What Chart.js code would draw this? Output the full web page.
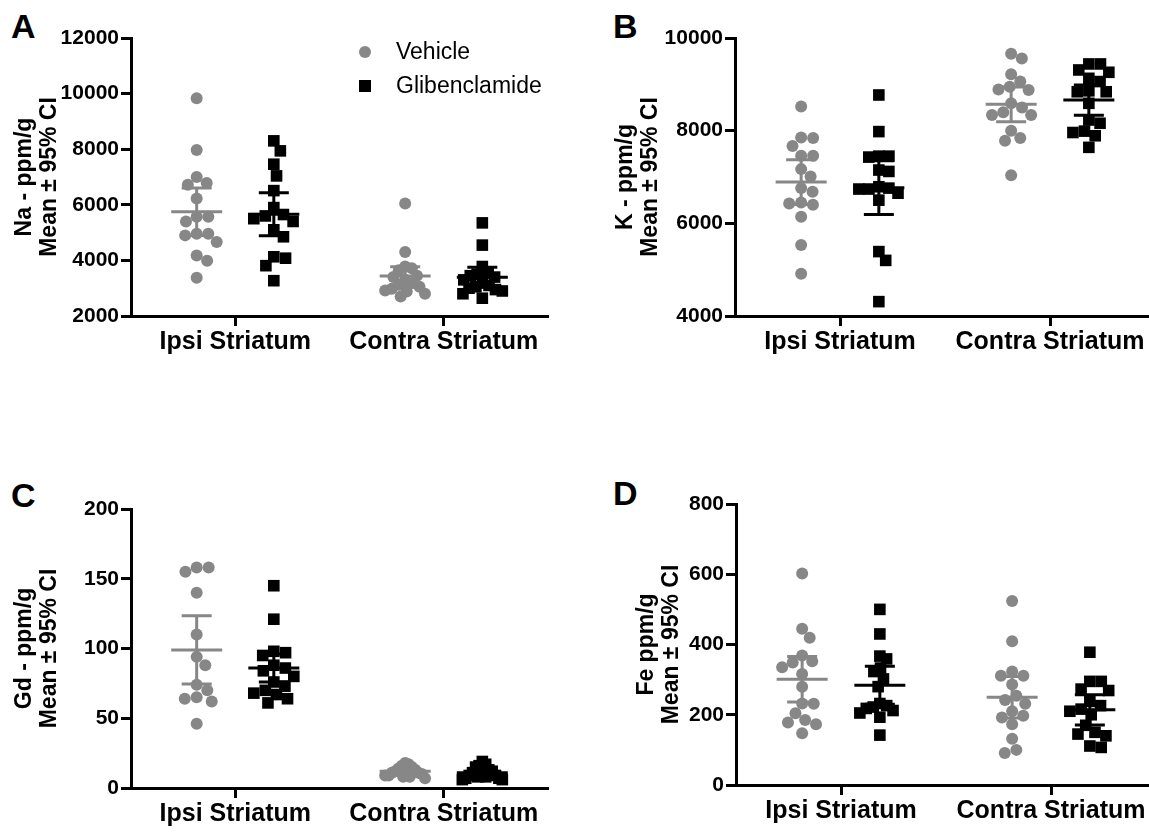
<!DOCTYPE html>
<html>
<head>
<meta charset="utf-8">
<script src="https://cdn.jsdelivr.net/npm/chart.js@4"></script>
<style>
  html, body { margin: 0; padding: 0; background: #fff; width: 1149px; height: 832px; overflow: hidden; }
  canvas { position: absolute; }
  .letter { position: absolute; font: bold 34px "Liberation Sans", Arial, sans-serif; line-height: 34px; color: #000; }
</style>
</head>
<body>
<div class="letter" style="left:11px;top:9px">A</div>
<div class="letter" style="left:613px;top:9px">B</div>
<div class="letter" style="left:11px;top:478px">C</div>
<div class="letter" style="left:613px;top:476px">D</div>
<canvas id="chartA" width="575" height="400" style="left:0;top:0"></canvas>
<canvas id="chartB" width="600" height="400" style="left:575px;top:0"></canvas>
<canvas id="chartC" width="575" height="362" style="left:0;top:470px"></canvas>
<canvas id="chartD" width="600" height="362" style="left:575px;top:470px"></canvas>
<script>
const categories = ['Ipsi Striatum', 'Contra Striatum'];

// Na - ppm/g
const naVehicleIpsi = [9830, 7970, 7000, 6780, 6720, 6230, 5570, 5400, 5570, 4960, 4660, 4900, 4960, 4180, 3990, 3380];
const naVehicleContra = [6050, 4300, 3780, 3720, 3650, 3450, 3400, 3300, 3180, 3120, 3050, 2980, 2920, 2880, 2800, 2700];
const naGlibIpsi = [8300, 7940, 7460, 7040, 6510, 5900, 5650, 5600, 5500, 5400, 5100, 4850, 4130, 4080, 3810, 3270];
const naGlibContra = [5350, 4550, 3780, 3550, 3500, 3450, 3400, 3300, 3200, 3100, 3050, 3000, 2950, 2900, 2800, 2640];
const naVehicleMean = [5750, 3440];
const naVehicleCI = [855, 330];
const naGlibMean = [5660, 3390];
const naGlibCI = [770, 360];

// K - ppm/g
const kVehicleIpsi = [8520, 7840, 7850, 7670, 7460, 7460, 7170, 7010, 6760, 6680, 6430, 6400, 6450, 6140, 5530, 4910];
const kVehicleContra = [9560, 9660, 9220, 9060, 8890, 8880, 8950, 8590, 8500, 8400, 8340, 8340, 8000, 7840, 7780, 7040];
const kGlibIpsi = [8770, 7980, 7430, 7450, 7450, 7150, 7120, 6740, 6760, 6790, 6740, 6650, 6500, 5390, 5200, 4310];
const kGlibContra = [9440, 9440, 9310, 9260, 9130, 9060, 8840, 8840, 8860, 8590, 8230, 8160, 7960, 7990, 7890, 7640];
const kVehicleMean = [6890, 8570];
const kVehicleCI = [485, 375];
const kGlibMean = [6770, 8660];
const kGlibCI = [580, 325];

// Gd - ppm/g
const gdVehicleIpsi = [158, 158, 155, 140, 110, 94, 88, 74, 70, 64, 62, 65, 46];
const gdVehicleContra = [18, 17, 16, 15, 14, 13, 12, 11, 11, 10, 10, 9, 9, 8, 8, 7];
const gdGlibIpsi = [145, 121, 98, 97, 95, 88, 86, 84, 80, 76, 73, 70, 68, 67, 64, 61];
const gdGlibContra = [19, 17, 16, 15, 13, 12, 11, 10, 9, 9, 8, 8, 7, 7, 6, 6];
const gdVehicleMean = [99, 12];
const gdVehicleCI = [24.5, 2];
const gdGlibMean = [86, 11];
const gdGlibCI = [10, 2];

// Fe ppm/g
const feVehicleIpsi = [602, 445, 419, 369, 349, 352, 335, 316, 280, 231, 232, 204, 178, 173, 185, 147];
const feVehicleContra = [524, 409, 323, 311, 311, 286, 254, 242, 231, 210, 197, 192, 173, 132, 91, 100];
const feGlibIpsi = [500, 430, 367, 359, 333, 323, 302, 280, 232, 226, 222, 218, 212, 205, 193, 142];
const feGlibContra = [378, 295, 295, 273, 269, 238, 226, 216, 210, 200, 170, 150, 145, 140, 111, 107];
const feVehicleMean = [301, 250];
const feVehicleCI = [65, 59];
const feGlibMean = [284, 214];
const feGlibCI = [54, 43];

const grey = '#878787';
const black = '#000000';
const fontFamily = '"Liberation Sans", Arial, Helvetica, sans-serif';
Chart.defaults.font.family = fontFamily;

// spread the points of one column sideways so they don't sit on top of each other
function swarm(ys, gap, limit) {
    const order = ys.map((y, i) => i).sort((a, b) => ys[a] - ys[b]);
    const placed = [];
    const xs = [];
    order.forEach(i => {
        const y = ys[i];
        const near = placed.filter(p => Math.abs(p.y - y) < gap);
        const cands = [0];
        near.forEach(p => {
            const dx = Math.sqrt(gap * gap - (p.y - y) ** 2);
            cands.push(p.x + dx, p.x - dx);
        });
        cands.sort((a, b) => Math.abs(a) - Math.abs(b));
        const x = cands.find(c => near.every(p => (p.x - c) ** 2 + (p.y - y) ** 2 >= gap * gap - 0.5));
        placed.push({ x: x ?? 0, y });
        xs[i] = x ?? 0;
    });
    const widest = Math.max(...xs.map(Math.abs));
    const k = widest > limit ? limit / widest : 1;
    return xs.map(x => x * k);
}

const beeswarm = {
    id: 'beeswarm',
    afterDatasetsUpdate(chart, args, opts) {
        chart.data.datasets.forEach((ds, i) => {
            const meta = chart.getDatasetMeta(i);
            const groups = {};
            meta.data.forEach((el, j) => {
                const key = ds.data[j].x;
                (groups[key] = groups[key] || []).push(el);
            });
            Object.values(groups).forEach(els => {
                const offs = swarm(els.map(e => e.y), opts.gap, opts.limit);
                els.forEach((e, k) => { e.x += offs[k]; });
            });
        });
    }
};

// mean line + 95% CI whiskers
const errorBars = {
    id: 'errorBars',
    afterDatasetsDraw(chart, args, opts) {
        const { ctx, scales: { x, y } } = chart;
        ctx.save();
        ctx.lineWidth = 3;
        opts.groups.forEach(g => {
            g.mean.forEach((m, i) => {
                const px = x.getPixelForValue(i + g.shift);
                const pm = y.getPixelForValue(m);
                const top = y.getPixelForValue(m + g.ci[i]);
                const bot = y.getPixelForValue(m - g.ci[i]);
                ctx.strokeStyle = g.color;
                ctx.beginPath();
                ctx.moveTo(px, top); ctx.lineTo(px, bot);
                ctx.moveTo(px - 15, top); ctx.lineTo(px + 15, top);
                ctx.moveTo(px - 15, bot); ctx.lineTo(px + 15, bot);
                ctx.moveTo(px - 25.5, pm); ctx.lineTo(px + 25.5, pm);
                ctx.stroke();
            });
        });
        ctx.restore();
    }
};

// little key in panel A
const keyBox = {
    id: 'keyBox',
    afterDraw(chart, args, opts) {
        const ctx = chart.ctx;
        ctx.save();
        ctx.font = '23px ' + fontFamily;
        ctx.textBaseline = 'middle';
        chart.data.datasets.forEach((ds, i) => {
            const cy = opts.y + i * opts.rowGap;
            ctx.fillStyle = ds.backgroundColor;
            if (ds.pointStyle === 'rect') {
                ctx.fillRect(opts.x - 6, cy - 6, 12, 12);
            } else {
                ctx.beginPath();
                ctx.arc(opts.x, cy, ds.pointRadius, 0, Math.PI * 2);
                ctx.fill();
            }
            ctx.fillStyle = black;
            ctx.fillText(ds.label, opts.textX, cy + 1);
        });
        ctx.restore();
    }
};

function makePanel(id, p) {
    const shift = 0.185;
    const toPoints = (cols, s) => cols.flatMap((vals, c) => vals.map(v => ({ x: c + s, y: v })));
    const axisGrid = { display: true, drawOnChartArea: false, drawTicks: true, tickLength: 10, tickWidth: 3, tickColor: black };
    const plugins = [beeswarm, errorBars];
    if (p.key) plugins.push(keyBox);

    new Chart(document.getElementById(id), {
        type: 'scatter',
        data: {
            datasets: [
                { label: 'Vehicle', data: toPoints(p.vehicle, -shift), pointStyle: 'circle', pointRadius: 6,
                  backgroundColor: grey, borderWidth: 0, clip: false },
                { label: 'Glibenclamide', data: toPoints(p.glib, shift), pointStyle: 'rect', pointRadius: 8.2,
                  backgroundColor: black, borderWidth: 0, clip: false }
            ]
        },
        options: {
            responsive: false,
            animation: false,
            events: [],
            layout: { padding: p.pad },
            scales: {
                x: {
                    type: 'linear', min: -0.5, max: 1.5,
                    afterBuildTicks: s => { s.ticks = categories.map((c, i) => ({ value: i })); },
                    afterFit: s => { s.height = p.xh; },
                    grid: axisGrid,
                    border: { display: true, width: 3, color: black },
                    ticks: {
                        callback: v => categories[v],
                        font: { size: 25, weight: 'bold' }, color: black, padding: 1,
                        maxRotation: 0, minRotation: 0, autoSkip: false
                    }
                },
                y: {
                    min: p.min, max: p.max,
                    afterFit: s => { s.width = p.yw; },
                    grid: axisGrid,
                    border: { display: true, width: 3, color: black },
                    ticks: {
                        stepSize: p.step, callback: v => v,
                        font: { size: 21, weight: 'bold' }, color: black, padding: 2
                    },
                    title: {
                        display: true, text: p.title, color: black,
                        font: { size: 23, weight: 'bold', lineHeight: 1.1 },
                        padding: { top: p.tpad, bottom: 0 }
                    }
                }
            },
            plugins: {
                legend: { display: false },
                tooltip: { enabled: false },
                beeswarm: { gap: 12, limit: 20 },
                errorBars: {
                    groups: [
                        { mean: p.vMean, ci: p.vCI, shift: -shift, color: grey },
                        { mean: p.gMean, ci: p.gCI, shift: shift, color: black }
                    ]
                },
                keyBox: p.key || {}
            }
        },
        plugins: plugins
    });
}

makePanel('chartA', {
    vehicle: [naVehicleIpsi, naVehicleContra], glib: [naGlibIpsi, naGlibContra],
    vMean: naVehicleMean, vCI: naVehicleCI, gMean: naGlibMean, gCI: naGlibCI,
    min: 2000, max: 12000, step: 2000, title: ['Na - ppm/g', 'Mean ± 95% CI'],
    yw: 131, xh: 60, tpad: 12, pad: { left: 0, top: 38, right: 27, bottom: 24 },
    key: { x: 365, y: 52, rowGap: 34, textX: 396 }
});
makePanel('chartB', {
    vehicle: [kVehicleIpsi, kVehicleContra], glib: [kGlibIpsi, kGlibContra],
    vMean: kVehicleMean, vCI: kVehicleCI, gMean: kGlibMean, gCI: kGlibCI,
    min: 4000, max: 10000, step: 2000, title: ['K - ppm/g', 'Mean ± 95% CI'],
    yw: 160, xh: 60, tpad: 38, pad: { left: 0, top: 38, right: 20, bottom: 24 }
});
makePanel('chartC', {
    vehicle: [gdVehicleIpsi, gdVehicleContra], glib: [gdGlibIpsi, gdGlibContra],
    vMean: gdVehicleMean, vCI: gdVehicleCI, gMean: gdGlibMean, gCI: gdGlibCI,
    min: 0, max: 200, step: 50, title: ['Gd - ppm/g', 'Mean ± 95% CI'],
    yw: 131, xh: 44, tpad: 12, pad: { left: 0, top: 39, right: 27, bottom: 0 }
});
makePanel('chartD', {
    vehicle: [feVehicleIpsi, feVehicleContra], glib: [feGlibIpsi, feGlibContra],
    vMean: feVehicleMean, vCI: feVehicleCI, gMean: feGlibMean, gCI: feGlibCI,
    min: 0, max: 800, step: 200, title: ['Fe ppm/g', 'Mean ± 95% CI'],
    yw: 161, xh: 47, tpad: 59, pad: { left: 0, top: 34, right: 19, bottom: 0 }
});
</script>
</body>
</html>
